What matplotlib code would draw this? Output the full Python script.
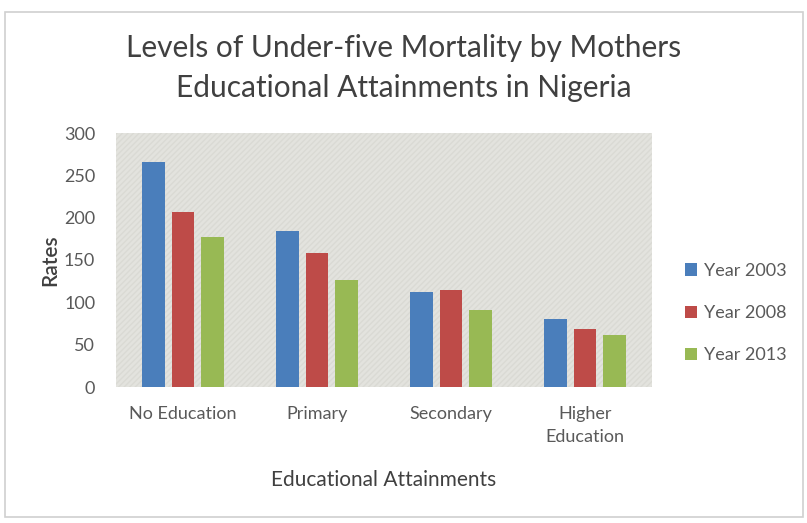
import matplotlib
matplotlib.use("Agg")
import matplotlib.pyplot as plt
import numpy as np
from matplotlib.patches import Rectangle

categories = ["No Education", "Primary", "Secondary", "Higher\nEducation"]
series_names = ["Year 2003", "Year 2008", "Year 2013"]
year_2003 = [266, 184, 112, 80]
year_2008 = [207, 158, 114, 68]
year_2013 = [177, 126, 91, 61]
y_ticks = [0, 50, 100, 150, 200, 250, 300]

colors = ["#4a7ebb", "#be4b48", "#98b954"]
text_color = "#595959"
font = ["Lato", "DejaVu Sans"]

fig = plt.figure(figsize=(8.07, 5.23), dpi=100)
fig.patch.set_facecolor("white")

# outer chart frame, kept behind the axes
frame = Rectangle((5 / 807, 1 - 517 / 523), 798 / 807, 505 / 523,
                  transform=fig.transFigure, facecolor="white",
                  edgecolor="#d0d0d0", linewidth=1.2, zorder=-10)
fig.patches.append(frame)

ax = fig.add_axes([116 / 807, 1 - 387 / 523, 536 / 807, 254 / 523])
ax.set_zorder(1)
ax.set_facecolor("#e3e3de")
ax.add_patch(Rectangle((0, 0), 1, 1, transform=ax.transAxes, facecolor="none",
                       edgecolor="#dadad4", hatch="//////", linewidth=0, zorder=0))

x = np.arange(len(categories))
width = 0.17
step = 0.22
for k, (vals, name) in enumerate(zip([year_2003, year_2008, year_2013], series_names)):
    ax.bar(x + (k - 1) * step, vals, width=width, color=colors[k], label=name, zorder=2)

ax.set_xlim(-0.5, len(categories) - 0.5)
ax.set_ylim(0, 300)
ax.set_yticks(y_ticks)
ax.set_yticklabels([str(t) for t in y_ticks], fontfamily=font, fontsize=13, color=text_color)
ax.set_xticks(x)
ax.set_xticklabels(categories, fontfamily=font, fontsize=13, color=text_color, linespacing=1.5)
ax.tick_params(axis="y", length=0, pad=15)
ax.tick_params(axis="x", length=0, pad=14)
for s in ax.spines.values():
    s.set_visible(False)

ax.set_ylabel("Rates", fontfamily=font, fontsize=15, color="#404040", labelpad=3, fontweight="semibold")
ax.set_xlabel("Educational Attainments", fontfamily=font, fontsize=15, color="#404040", labelpad=18)

fig.text(0.5, 1 - 48 / 523, "Levels of Under-five Mortality by Mothers",
         ha="center", va="center", fontfamily=font, fontsize=21.5, color="#404040")
fig.text(0.5, 1 - 88 / 523, "Educational Attainments in Nigeria",
         ha="center", va="center", fontfamily=font, fontsize=21.5, color="#404040")

leg = fig.legend(loc="center left", bbox_to_anchor=(669 / 807, 1 - 313 / 523),
                 frameon=False, prop={"family": font, "size": 13},
                 handlelength=0.65, handleheight=0.65, handletextpad=0.4, labelspacing=1.45)
for t in leg.get_texts():
    t.set_color(text_color)

fig.savefig("out.png", dpi=100)
